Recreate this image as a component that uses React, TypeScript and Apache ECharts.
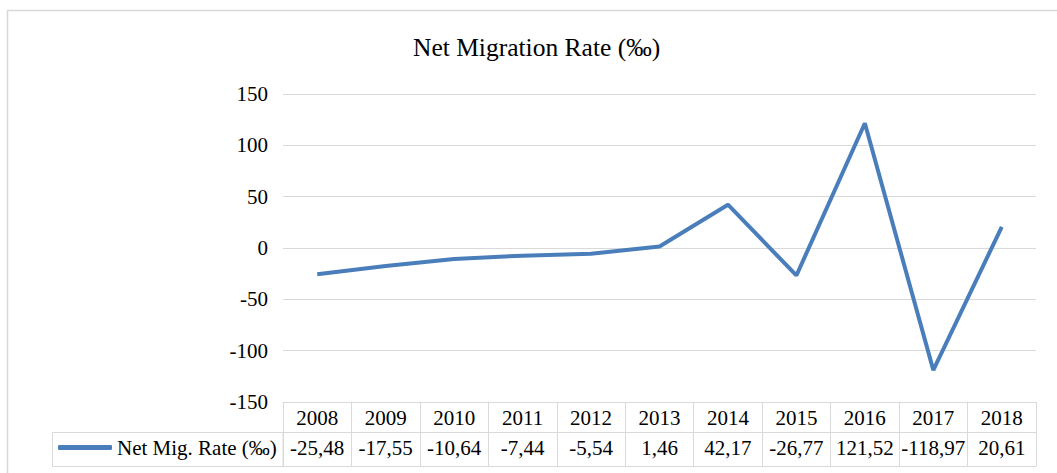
import React, { useEffect, useRef } from "react";
import * as echarts from "echarts";

const years = ["2008", "2009", "2010", "2011", "2012", "2013", "2014", "2015", "2016", "2017", "2018"];
const netMigRate = [-25.48, -17.55, -10.64, -7.44, -5.54, 1.46, 42.17, -26.77, 121.52, -118.97, 20.61];
const seriesName = "Net Mig. Rate (‰)";
const chartTitle = "Net Migration Rate (‰)";

const FONT = "Liberation Serif";
const GRID = "#d9d9d9";
const LINE = "#4a7ebb";
const FS = 21;

const fmt = (v: number) => v.toFixed(2).replace(".", ",");

export default function App() {
  const ref = useRef<HTMLDivElement>(null);
  useEffect(() => {
    if (!ref.current) return;
    const chart = echarts.init(ref.current, null, { renderer: "svg" });
    chart.setOption({
      animation: false,
      backgroundColor: "#fff",
      textStyle: { fontFamily: FONT },
      title: {
        text: chartTitle,
        left: 413,
        top: 34,
        padding: 0,
        textStyle: { fontFamily: FONT, fontSize: 25.5, fontWeight: "normal", color: "#000" },
      },
      legend: {
        data: [seriesName],
        left: 58,
        top: 437,
        padding: 0,
        icon: "roundRect",
        itemWidth: 54,
        itemHeight: 5,
        itemGap: 0,
        textStyle: { fontFamily: FONT, fontSize: FS, color: "#000" },
      },
      grid: { left: 283, right: 21, top: 94, bottom: 71, containLabel: false },
      xAxis: [
        {
          type: "category",
          data: years,
          position: "bottom",
          boundaryGap: true,
          axisLine: { show: true, onZero: false, lineStyle: { color: GRID, width: 1 } },
          axisTick: { show: true, inside: false, interval: 0, length: 64, lineStyle: { color: GRID, width: 1 } },
          axisLabel: { interval: 0, margin: 5, fontFamily: FONT, fontSize: FS, color: "#000" },
        },
        {
          type: "category",
          data: years,
          position: "bottom",
          offset: 30,
          axisLine: { show: true, onZero: false, lineStyle: { color: GRID, width: 1 } },
          axisTick: { show: false },
          axisLabel: {
            interval: 0,
            margin: 5,
            fontFamily: FONT,
            fontSize: FS,
            color: "#000",
            formatter: (_v: string, i: number) => fmt(netMigRate[i]),
          },
        },
        {
          type: "category",
          data: years,
          position: "bottom",
          offset: 64,
          axisLine: { show: true, onZero: false, lineStyle: { color: GRID, width: 1 } },
          axisTick: { show: false },
          axisLabel: { show: false },
        },
      ],
      yAxis: {
        type: "value",
        min: -150,
        max: 150,
        interval: 50,
        axisLine: { show: false },
        axisTick: { show: false },
        splitLine: { lineStyle: { color: GRID, width: 1 } },
        axisLabel: { margin: 15, fontFamily: FONT, fontSize: FS, color: "#000" },
      },
      graphic: [
        {
          type: "rect",
          silent: true,
          shape: { x: 7.5, y: 10.5, width: 1060, height: 470 },
          style: { fill: "none", stroke: GRID, lineWidth: 1.5 },
        },
        {
          type: "rect",
          silent: true,
          shape: { x: 52.5, y: 432.5, width: 230.5, height: 34 },
          style: { fill: "none", stroke: GRID, lineWidth: 1 },
        },
      ],
      series: [
        {
          name: seriesName,
          type: "line",
          xAxisIndex: 0,
          data: netMigRate,
          symbol: "none",
          lineStyle: { color: LINE, width: 4 },
          itemStyle: { color: LINE },
        },
      ],
    });
    return () => chart.dispose();
  }, []);
  return (
    <div
      ref={ref}
      style={{ position: "fixed", left: 0, top: 0, width: 1057, height: 473, background: "#fff" }}
    />
  );
}
